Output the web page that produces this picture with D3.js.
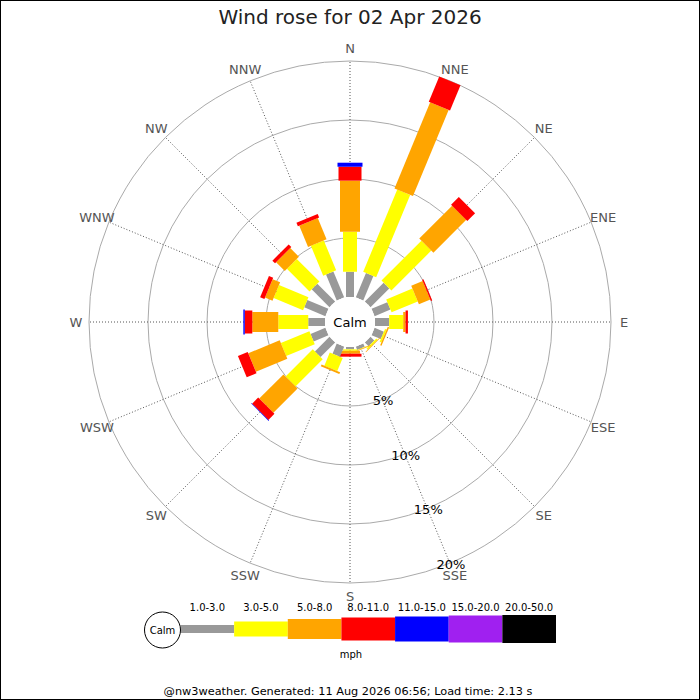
<!DOCTYPE html>
<html>
<head>
<meta charset="utf-8">
<script src="https://cdn.jsdelivr.net/npm/d3@7"></script>
<style>
  html, body { margin: 0; padding: 0; background: #fff; }
  svg { display: block; font-family: "DejaVu Sans", sans-serif; }
</style>
</head>
<body>
<div id="chart"></div>
<script>
// ---- Data ----
const directions = ["N","NNE","NE","ENE","E","ESE","SE","SSE","S","SSW","SW","WSW","W","WNW","NW","NNW"];
const speedBins = ["1.0-3.0","3.0-5.0","5.0-8.0","8.0-11.0","11.0-15.0","15.0-20.0","20.0-50.0"];
const binColors = ["#999999","#ffff00","#ffa500","#ff0000","#0000ff","#a020f0","#000000"];
// percentage of time per direction, per speed band (mph)
const band1to3   = [2.14, 2.24, 2.25, 1.45, 1.20, 0.85, 0.45, 0.30, 0.20, 0.93, 1.75, 1.36, 1.42, 1.94, 2.14, 2.38];
const band3to5   = [3.39, 7.54, 4.78, 2.40, 1.19, 0.15, 0.15, 0.05, 0.12, 1.20, 3.26, 2.62, 2.54, 2.70, 2.71, 2.74];
const band5to8   = [4.33, 7.90, 3.94, 1.05, 0.20, 0.12, 0.05, 0.05, 0.25, 0.17, 2.90, 2.88, 2.20, 0.69, 1.04, 1.95];
const band8to11  = [1.18, 2.32, 0.93, 0.12, 0.20, 0.00, 0.00, 0.00, 0.25, 0.00, 0.73, 0.90, 0.64, 0.39, 0.32, 0.32];
const band11to15 = [0.34, 0.00, 0.00, 0.00, 0.00, 0.00, 0.00, 0.00, 0.00, 0.00, 0.05, 0.00, 0.12, 0.00, 0.00, 0.00];
const band15to20 = [0,0,0,0,0,0,0,0,0,0,0,0,0,0,0,0];
const band20to50 = [0,0,0,0,0,0,0,0,0,0,0,0,0,0,0,0];
const ringTicks = [5, 10, 15, 20];
const ringLabels = ["5%", "10%", "15%", "20%"];
const titleText = "Wind rose for 02 Apr 2026";
const unitText = "mph";
const footerText = "@nw3weather. Generated: 11 Aug 2026 06:56; Load time: 2.13 s";

const bands = [band1to3, band3to5, band5to8, band8to11, band11to15, band15to20, band20to50];

// ---- Layout ----
const W = 700, H = 700;
const cx = 350, cy = 322;
const calmR = 25;
const barWidths = [8, 14, 20, 23, 25, 27, 28];

const svg = d3.select("#chart").append("svg")
  .attr("width", W).attr("height", H);

svg.append("rect").attr("x", 0.5).attr("y", 0.5)
  .attr("width", W - 1).attr("height", H - 1)
  .attr("fill", "#fff").attr("stroke", "#000").attr("stroke-width", 1);

svg.append("text").attr("x", cx).attr("y", 24)
  .attr("text-anchor", "middle").attr("font-size", 20).attr("fill", "#222")
  .text(titleText);

const r = d3.scaleLinear().domain([0, 20]).range([calmR, 261]);
const angle = d3.scaleBand().domain(directions).range([0, 360]).align(0).paddingInner(0).paddingOuter(0);
const ang = d => angle(d); // degrees clockwise from north

const g = svg.append("g").attr("transform", `translate(${cx},${cy})`);

// rings
g.selectAll("circle.ring").data(ringTicks).join("circle")
  .attr("class", "ring")
  .attr("r", d => r(d))
  .attr("fill", "none").attr("stroke", "#aaa").attr("stroke-width", 1);

// spokes
g.selectAll("line.spoke").data(directions).join("line")
  .attr("class", "spoke")
  .attr("x1", d => calmR * Math.sin(ang(d) * Math.PI / 180))
  .attr("y1", d => -calmR * Math.cos(ang(d) * Math.PI / 180))
  .attr("x2", d => r(20) * Math.sin(ang(d) * Math.PI / 180))
  .attr("y2", d => -r(20) * Math.cos(ang(d) * Math.PI / 180))
  .attr("stroke", "#555").attr("stroke-width", 1).attr("stroke-dasharray", "1,2");

// bars
const segs = [];
directions.forEach((dir, i) => {
  let cum = 0;
  bands.forEach((vals, b) => {
    const v = vals[i];
    if (v > 0) {
      segs.push({dir, b, start: cum, end: cum + v});
      cum += v;
    }
  });
});
g.selectAll("rect.seg").data(segs).join("rect")
  .attr("class", "seg")
  .attr("transform", d => `rotate(${ang(d.dir)})`)
  .attr("x", d => -barWidths[d.b] / 2)
  .attr("y", d => -r(d.end))
  .attr("width", d => barWidths[d.b])
  .attr("height", d => r(d.end) - r(d.start))
  .attr("fill", d => binColors[d.b]);

// calm circle
g.append("circle").attr("r", calmR).attr("fill", "#fff");
g.append("text").attr("x", 0).attr("y", 0).attr("dy", "0.36em")
  .attr("text-anchor", "middle").attr("font-size", 13).attr("fill", "#000")
  .text("Calm");

// direction labels
g.selectAll("text.dir").data(directions).join("text")
  .attr("class", "dir")
  .attr("x", d => 274 * Math.sin(ang(d) * Math.PI / 180))
  .attr("y", d => -274 * Math.cos(ang(d) * Math.PI / 180))
  .attr("dy", "0.36em")
  .attr("text-anchor", "middle").attr("font-size", 13).attr("fill", "#555")
  .text(d => d);

// ring labels along SSE
const la = ang("SSE") * Math.PI / 180;
g.selectAll("text.ringlab").data(ringTicks).join("text")
  .attr("class", "ringlab")
  .attr("x", d => r(d) * Math.sin(la) + 1)
  .attr("y", d => -r(d) * Math.cos(la) + 1)
  .attr("dy", "0.36em")
  .attr("text-anchor", "middle").attr("font-size", 13).attr("fill", "#000")
  .text((d, i) => ringLabels[i]);

// ---- Legend ----
const legX = d3.scaleBand().domain(speedBins).range([180.5, 556]);
const legY = 629;
const legH = [8, 15, 20, 23, 25, 27, 28];
const leg = svg.append("g");
leg.selectAll("rect").data(speedBins).join("rect")
  .attr("x", d => legX(d))
  .attr("y", (d, i) => legY - legH[i] / 2)
  .attr("width", legX.bandwidth())
  .attr("height", (d, i) => legH[i])
  .attr("fill", (d, i) => binColors[i]);
leg.selectAll("text.binlab").data(speedBins).join("text")
  .attr("class", "binlab")
  .attr("x", d => legX(d) + legX.bandwidth() / 2)
  .attr("y", 607).attr("dy", "0.36em")
  .attr("text-anchor", "middle").attr("font-size", 10).attr("fill", "#000")
  .text(d => d);
leg.append("circle").attr("cx", 162.5).attr("cy", 630).attr("r", 18)
  .attr("fill", "#fff").attr("stroke", "#000").attr("stroke-width", 1);
leg.append("text").attr("x", 162.5).attr("y", 630).attr("dy", "0.36em")
  .attr("text-anchor", "middle").attr("font-size", 10).attr("fill", "#000")
  .text("Calm");
leg.append("text").attr("x", 351).attr("y", 654).attr("dy", "0.36em")
  .attr("text-anchor", "middle").attr("font-size", 10).attr("fill", "#000")
  .text(unitText);

svg.append("text").attr("x", 348).attr("y", 691).attr("dy", "0.36em")
  .attr("text-anchor", "middle").attr("font-size", 11.3).attr("fill", "#000")
  .text(footerText);
</script>
</body>
</html>
